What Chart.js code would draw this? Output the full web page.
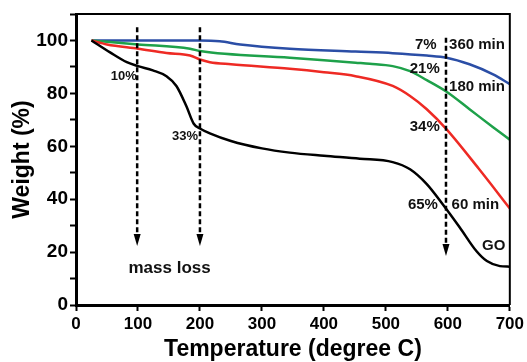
<!DOCTYPE html>
<html>
<head>
<meta charset="utf-8">
<script src="https://cdn.jsdelivr.net/npm/chart.js@4"></script>
<style>
  html, body { margin: 0; padding: 0; background: #fff; }
  canvas { display: block; }
</style>
</head>
<body>
<canvas id="tgaChart" width="527" height="362"></canvas>
<script>
// TGA curves, weight (%) vs temperature (degree C)
const goTemp = [25, 55, 82, 100, 124, 146, 162, 178, 190, 200, 216, 250, 300, 345, 400, 458, 511, 539, 566, 592, 619, 646, 663, 684, 700];
const goWeight = [100, 95.5, 91.8, 90.3, 88.7, 86.5, 82.8, 75.2, 68.5, 66.7, 64.9, 62, 59.2, 57.6, 56.4, 55.3, 54, 51.3, 45.7, 38, 29.4, 20.4, 16.6, 14.7, 14.5];

const min60Temp = [25, 50, 100, 146, 184, 200, 216, 250, 345, 400, 451, 511, 539, 566, 598, 650, 700];
const min60Weight = [100, 98.5, 96.9, 95.3, 94.3, 92.8, 91.8, 91, 89.3, 88, 86.5, 82.8, 79, 74, 66.4, 51.5, 36.5];

const min180Temp = [25, 100, 184, 200, 345, 451, 474, 511, 539, 566, 598, 635, 673, 700];
const min180Weight = [100, 98.5, 96.9, 96, 93.5, 91.6, 91.2, 90.3, 88.4, 85, 80.6, 74, 67.2, 62.5];

const min360Temp = [25, 100, 200, 232, 265, 345, 451, 511, 566, 598, 635, 673, 700];
const min360Weight = [100, 100, 100, 99.7, 98.5, 96.9, 95.8, 95.2, 94.3, 93.5, 91, 87.2, 83.5];

const yTickLabels = [0, 20, 40, 60, 80, 100];

function points(xs, ys) {
  return xs.map((x, i) => ({ x: x, y: ys[i] }));
}

const FONT = "'Liberation Sans', Arial, sans-serif";

// dashed arrows and text notes, drawn with the chart's own scales
const notesPlugin = {
  id: "notes",
  afterDraw(chart) {
    const c = chart.ctx;
    const xs = chart.scales.x;
    const ys = chart.scales.y;
    const a = chart.chartArea;

    // frame top and right
    c.save();
    c.strokeStyle = "#000";
    c.lineWidth = 2;
    c.beginPath();
    c.moveTo(a.left, a.top);
    c.lineTo(a.right, a.top);
    c.lineTo(a.right, a.bottom);
    c.stroke();
    c.restore();

    const arrows = [[98.7, 105, 22.3], [200, 105, 22.3], [597, 101, 18.5]];
    arrows.forEach(([t, from, to]) => {
      const px = xs.getPixelForValue(t);
      const y1 = ys.getPixelForValue(from);
      const y2 = ys.getPixelForValue(to);
      c.save();
      c.strokeStyle = "#000";
      c.lineWidth = 2.5;
      c.setLineDash([5, 3]);
      c.beginPath();
      c.moveTo(px, y1);
      c.lineTo(px, y2 - 10);
      c.stroke();
      c.setLineDash([]);
      c.fillStyle = "#000";
      c.beginPath();
      c.moveTo(px - 3.5, y2 - 12);
      c.lineTo(px + 3.5, y2 - 12);
      c.lineTo(px, y2);
      c.closePath();
      c.fill();
      c.restore();
    });

    const notes = [
      ["10%", 98, 86.4, "right", 13],
      ["33%", 197, 63.8, "right", 13],
      ["7%", 582, 98.5, "right", 15],
      ["360 min", 602, 98.5, "left", 15],
      ["21%", 587, 89.4, "right", 15],
      ["180 min", 602, 82.3, "left", 15],
      ["34%", 587, 67.5, "right", 15],
      ["65%", 584, 38, "right", 15],
      ["60 min", 606, 38, "left", 15],
      ["GO", 674, 22.3, "center", 15],
      ["mass loss", 151, 14, "center", 17]
    ];
    c.save();
    c.fillStyle = "#111";
    c.textBaseline = "middle";
    notes.forEach(([txt, t, v, align, size]) => {
      c.font = "bold " + size + "px " + FONT;
      c.textAlign = align;
      c.fillText(txt, xs.getPixelForValue(t), ys.getPixelForValue(v));
    });
    c.restore();
  }
};

const ctx = document.getElementById("tgaChart").getContext("2d");

new Chart(ctx, {
  type: "line",
  data: {
    datasets: [
      { label: "GO", data: points(goTemp, goWeight), borderColor: "#000000" },
      { label: "60 min", data: points(min60Temp, min60Weight), borderColor: "#ee2a24" },
      { label: "180 min", data: points(min180Temp, min180Weight), borderColor: "#1ea14a" },
      { label: "360 min", data: points(min360Temp, min360Weight), borderColor: "#2b4ea6" }
    ]
  },
  options: {
    responsive: false,
    animation: false,
    layout: { padding: { left: 0, right: 17, top: 14, bottom: 0 } },
    elements: {
      line: { borderWidth: 2.5, cubicInterpolationMode: "monotone", fill: false },
      point: { radius: 0 }
    },
    plugins: {
      legend: { display: false },
      tooltip: { enabled: false }
    },
    scales: {
      x: {
        type: "linear",
        min: 0,
        max: 700,
        afterFit: (s) => { s.height = 57; },
        ticks: {
          stepSize: 100,
          color: "#000",
          padding: 3,
          font: { family: FONT, size: 17, weight: "bold" }
        },
        grid: { drawOnChartArea: false, tickLength: 6, tickWidth: 2, tickColor: "#000" },
        border: { display: true, color: "#000", width: 3 },
        title: {
          display: true,
          text: "Temperature (degree C)",
          color: "#000",
          font: { family: FONT, size: 23, weight: "bold", lineHeight: 1 },
          padding: { top: 0, bottom: 1 }
        }
      },
      y: {
        min: 0,
        max: 110,
        afterFit: (s) => { s.width = 76; },
        ticks: {
          stepSize: 10,
          color: "#000",
          padding: 2,
          font: { family: FONT, size: 19, weight: "bold" },
          callback: (v) => (yTickLabels.includes(v) ? v : "")
        },
        grid: { drawOnChartArea: false, tickLength: 6, tickWidth: 2, tickColor: "#000" },
        border: { display: true, color: "#000", width: 3 },
        title: {
          display: true,
          text: "Weight (%)",
          color: "#000",
          font: { family: FONT, size: 23, weight: "bold", lineHeight: 1.2 },
          padding: { top: 9, bottom: 0 }
        }
      }
    }
  },
  plugins: [notesPlugin]
});
</script>
</body>
</html>
